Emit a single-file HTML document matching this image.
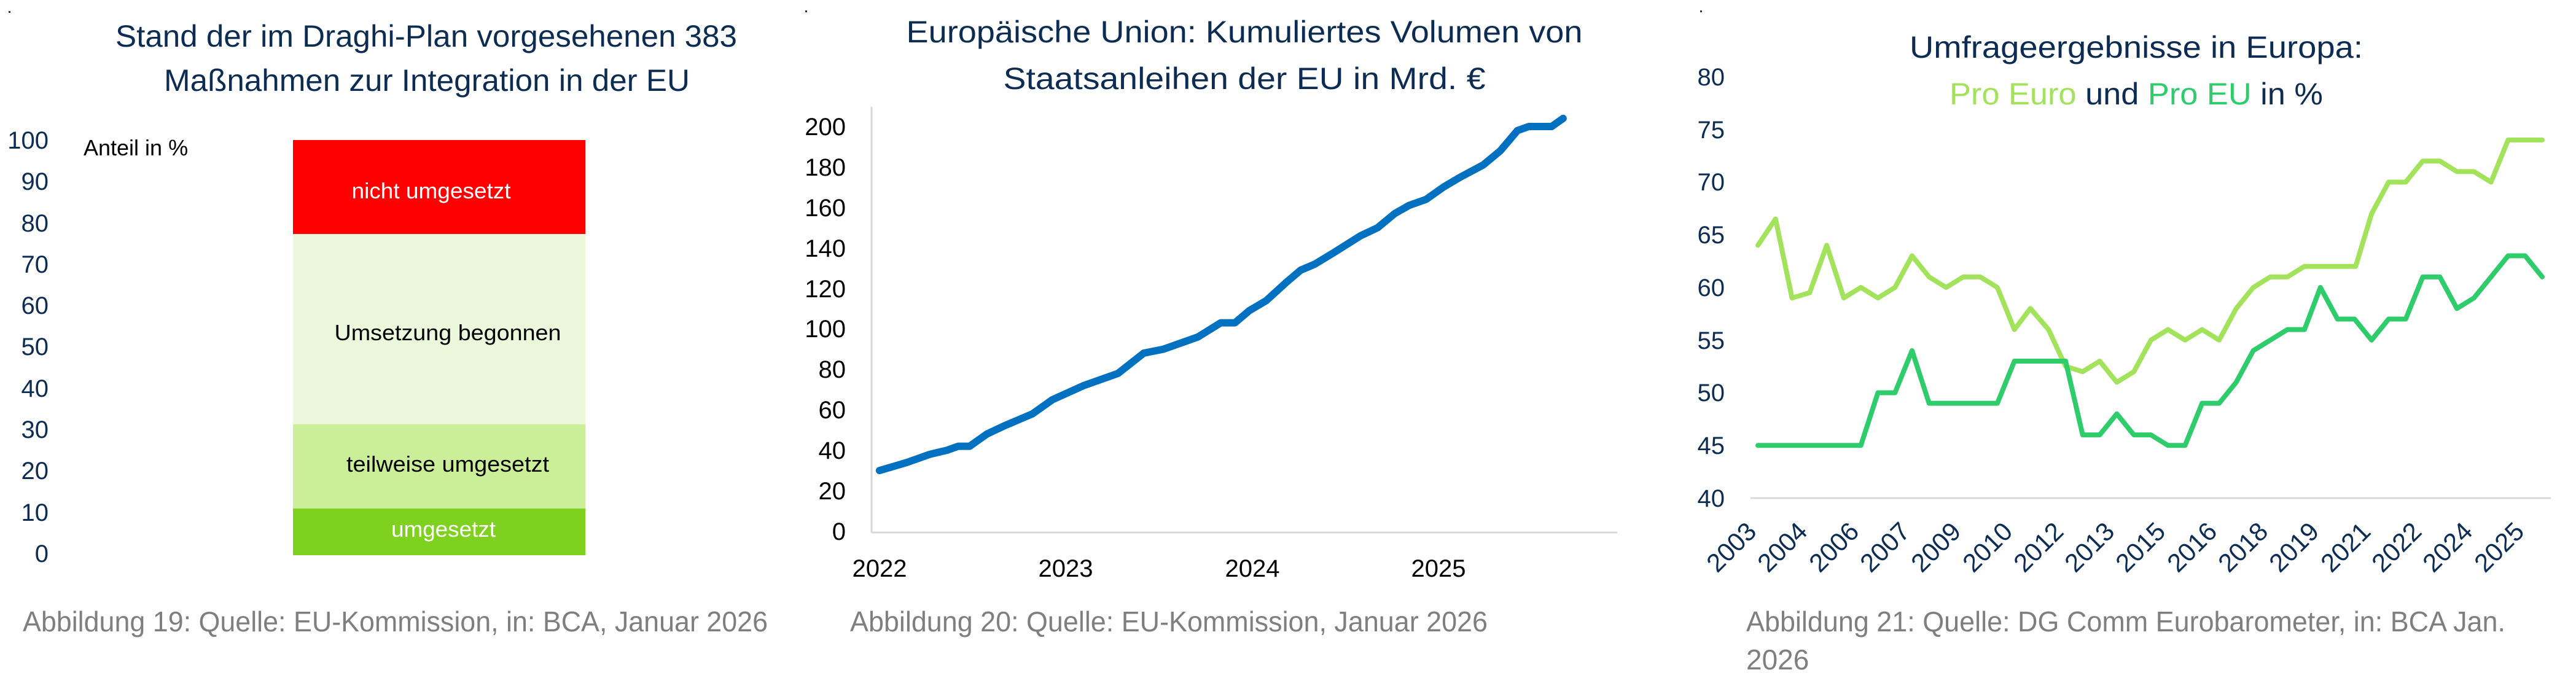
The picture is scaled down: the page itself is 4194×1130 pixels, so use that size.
<!DOCTYPE html>
<html><head><meta charset="utf-8"><style>
html,body{margin:0;padding:0;background:#fff;}
svg{display:block;}
text{font-family:"Liberation Sans",sans-serif;}
</style></head><body>
<svg width="4194" height="1130" viewBox="0 0 4194 1130" xmlns="http://www.w3.org/2000/svg">
<rect width="4194" height="1130" fill="#fff"/>
<!-- Chart 1 -->
<g fill="#0d2c54" font-size="50">
<text x="694" y="76" text-anchor="middle" textLength="1012" lengthAdjust="spacingAndGlyphs">Stand der im Draghi-Plan vorgesehenen 383</text>
<text x="695" y="148" text-anchor="middle" textLength="856" lengthAdjust="spacingAndGlyphs">Maßnahmen zur Integration in der EU</text>
</g>
<g fill="#0d2c54" font-size="40" text-anchor="end">
<text x="79" y="242">100</text><text x="79" y="309">90</text><text x="79" y="377">80</text>
<text x="79" y="444">70</text><text x="79" y="511">60</text><text x="79" y="578">50</text>
<text x="79" y="646">40</text><text x="79" y="713">30</text><text x="79" y="780">20</text>
<text x="79" y="848">10</text><text x="79" y="915">0</text>
</g>
<text x="136" y="253" font-size="36" fill="#000">Anteil in %</text>
<rect x="477" y="228" width="476" height="154" fill="#ff0000"/>
<rect x="477" y="381" width="476" height="311" fill="#ebf8dc"/>
<rect x="477" y="691" width="476" height="138" fill="#cbef98"/>
<rect x="477" y="828" width="476" height="76" fill="#7fd11f"/>
<g font-size="36" text-anchor="middle">
<text x="702" y="323" fill="#fff" textLength="259" lengthAdjust="spacingAndGlyphs">nicht umgesetzt</text>
<text x="729" y="554" fill="#000" textLength="369" lengthAdjust="spacingAndGlyphs">Umsetzung begonnen</text>
<text x="729" y="768" fill="#000" textLength="330" lengthAdjust="spacingAndGlyphs">teilweise umgesetzt</text>
<text x="722" y="874" fill="#fff" textLength="170" lengthAdjust="spacingAndGlyphs">umgesetzt</text>
</g>
<text x="37" y="1028" font-size="46" fill="#7f7f7f" textLength="1213" lengthAdjust="spacingAndGlyphs">Abbildung 19: Quelle: EU-Kommission, in: BCA, Januar 2026</text>

<!-- Chart 2 -->
<g fill="#0d2c54" font-size="50" text-anchor="middle">
<text x="2026" y="69" textLength="1101" lengthAdjust="spacingAndGlyphs">Europäische Union: Kumuliertes Volumen von</text>
<text x="2026" y="145" textLength="785" lengthAdjust="spacingAndGlyphs">Staatsanleihen der EU in Mrd. €</text>
</g>
<line x1="1419" y1="174" x2="1419" y2="867" stroke="#d9d9d9" stroke-width="3"/>
<line x1="1419" y1="867" x2="2633" y2="867" stroke="#d9d9d9" stroke-width="3"/>
<g fill="#000" font-size="40" text-anchor="end">
<text x="1377" y="220">200</text><text x="1377" y="286">180</text><text x="1377" y="352">160</text>
<text x="1377" y="418">140</text><text x="1377" y="484">120</text><text x="1377" y="549">100</text>
<text x="1377" y="615">80</text><text x="1377" y="681">60</text><text x="1377" y="747">40</text>
<text x="1377" y="813">20</text><text x="1377" y="879">0</text>
</g>
<g fill="#000" font-size="40" text-anchor="middle">
<text x="1432" y="939">2022</text><text x="1735" y="939">2023</text><text x="2039" y="939">2024</text><text x="2342" y="939">2025</text>
</g>
<polyline transform="translate(1300,865) scale(0.929,-3.295)" vector-effect="non-scaling-stroke" fill="none" stroke="#0070c0" stroke-width="12" stroke-linejoin="round" stroke-linecap="round"
points="142,30 190,34 230,38 260,40 280,42 300,42 330,48 360,52 410,58 445,65 500,72 560,78 605,88 640,90 700,96 740,103 765,103 790,109 820,114 855,123 880,129 905,132 940,138 985,146 1015,150 1045,157 1070,161 1100,164 1130,170 1160,175 1200,181 1230,188 1260,198 1280,200 1305,200 1320,200 1340,204"/>
<text x="1384" y="1028" font-size="46" fill="#7f7f7f" textLength="1038" lengthAdjust="spacingAndGlyphs">Abbildung 20: Quelle: EU-Kommission, Januar 2026</text>

<!-- Chart 3 -->
<g font-size="50" text-anchor="middle">
<text x="3478" y="94" fill="#0d2c54" textLength="738" lengthAdjust="spacingAndGlyphs">Umfrageergebnisse in Europa:</text>
<text x="3478" y="170" textLength="608" lengthAdjust="spacingAndGlyphs"><tspan fill="#a3e35b">Pro Euro</tspan><tspan fill="#0d2c54"> und </tspan><tspan fill="#2fcc6c">Pro EU</tspan><tspan fill="#0d2c54"> in %</tspan></text>
</g>
<line x1="2850" y1="811" x2="4153" y2="811" stroke="#d9d9d9" stroke-width="3"/>
<g fill="#0d2c54" font-size="40" text-anchor="end">
<text x="2808" y="139">80</text><text x="2808" y="225">75</text><text x="2808" y="310">70</text>
<text x="2808" y="396">65</text><text x="2808" y="482">60</text><text x="2808" y="568">55</text>
<text x="2808" y="653">50</text><text x="2808" y="739">45</text><text x="2808" y="825">40</text>
</g>
<g fill="#0d2c54" font-size="42" text-anchor="end">
<text transform="translate(2862,868) rotate(-45)">2003</text>
<text transform="translate(2945,868) rotate(-45)">2004</text>
<text transform="translate(3029,868) rotate(-45)">2006</text>
<text transform="translate(3112,868) rotate(-45)">2007</text>
<text transform="translate(3195,868) rotate(-45)">2009</text>
<text transform="translate(3279,868) rotate(-45)">2010</text>
<text transform="translate(3362,868) rotate(-45)">2012</text>
<text transform="translate(3445,868) rotate(-45)">2013</text>
<text transform="translate(3528,868) rotate(-45)">2015</text>
<text transform="translate(3612,868) rotate(-45)">2016</text>
<text transform="translate(3695,868) rotate(-45)">2018</text>
<text transform="translate(3778,868) rotate(-45)">2019</text>
<text transform="translate(3862,868) rotate(-45)">2021</text>
<text transform="translate(3945,868) rotate(-45)">2022</text>
<text transform="translate(4028,868) rotate(-45)">2024</text>
<text transform="translate(4112,868) rotate(-45)">2025</text>
</g>
<polyline transform="translate(2750,1497) scale(0.926,-17.15)" vector-effect="non-scaling-stroke" fill="none" stroke="#a3e35b" stroke-width="8" stroke-linejoin="round" stroke-linecap="round"
points="121,64 152,66.5 181,59 212,59.5 242,64 272,59 302,60 332,59 362,60 392,63 422,61 452,60 482,61 512,61 542,60 572,56 600,58 632,56 662,52.5 692,52 722,53 752,51 782,52 812,55 842,56 872,55 902,56 932,55 962,58 992,60 1022,61 1052,61 1082,62 1112,62 1142,62 1172,62 1200,67 1230,70 1260,70 1290,72 1320,72 1350,71 1380,71 1410,70 1440,74 1470,74 1500,74"/>
<polyline transform="translate(2750,1497) scale(0.926,-17.15)" vector-effect="non-scaling-stroke" fill="none" stroke="#2fcc6c" stroke-width="8" stroke-linejoin="round" stroke-linecap="round"
points="121,45 302,45 332,50 362,50 392,54 422,49 542,49 572,53 662,53 692,46 722,46 752,48 782,46 812,46 842,45 872,45 902,49 932,49 962,51 992,54 1022,55 1052,56 1082,56 1110,60 1140,57 1170,57 1200,55 1230,57 1260,57 1290,61 1320,61 1350,58 1380,59 1410,61 1440,63 1470,63 1500,61"/>
<text x="2843" y="1028" font-size="46" fill="#7f7f7f" textLength="1236" lengthAdjust="spacingAndGlyphs">Abbildung 21: Quelle: DG Comm Eurobarometer, in: BCA Jan.</text>
<text x="2843" y="1090" font-size="46" fill="#7f7f7f">2026</text>
<rect x="14" y="18" width="3" height="3" fill="#333"/>
<rect x="1311" y="17" width="3" height="3" fill="#333"/>
<rect x="2768" y="17" width="3" height="3" fill="#333"/>
</svg>
</body></html>
